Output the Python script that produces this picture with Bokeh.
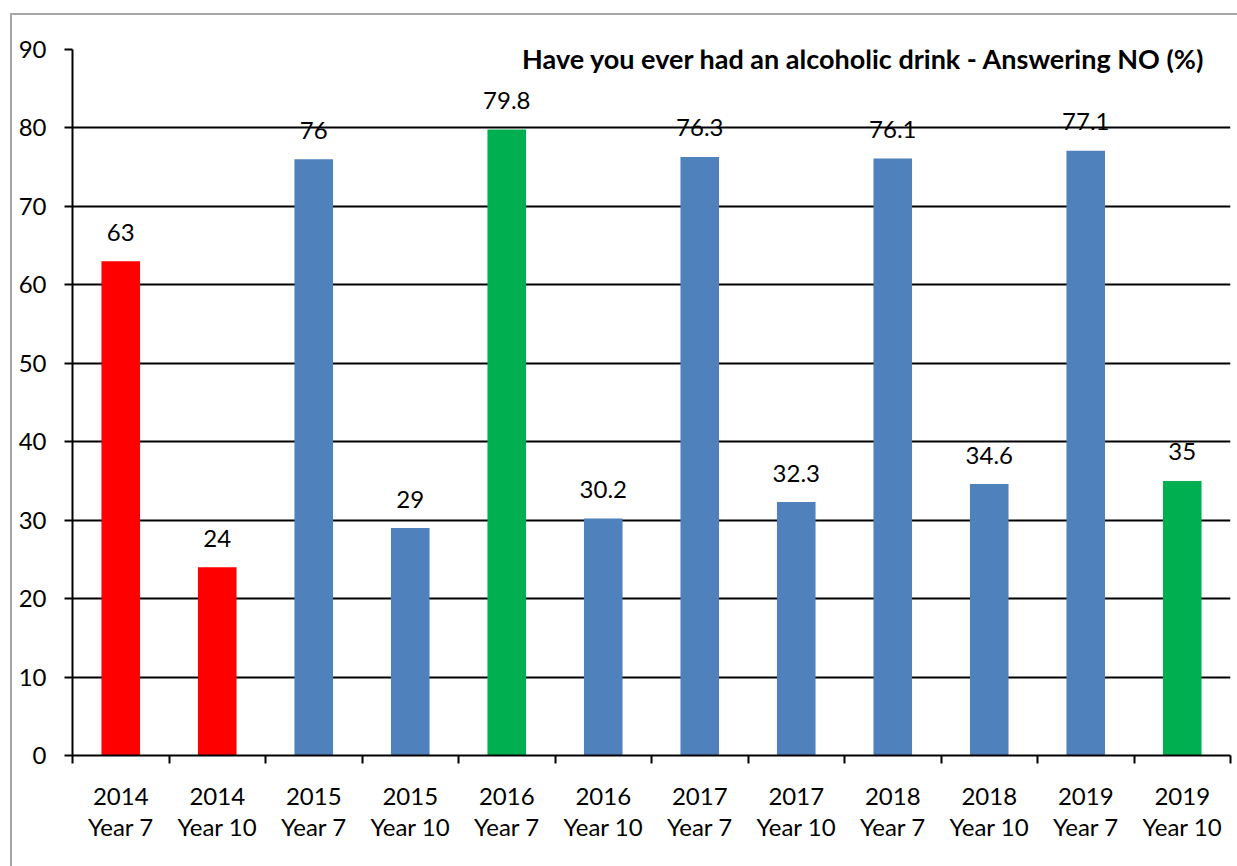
from bokeh.plotting import figure
from bokeh.models import FixedTicker, ColumnDataSource, Range1d
from bokeh.core.properties import value
from bokeh.embed import file_html
from bokeh.resources import INLINE

years = ["2014", "2014", "2015", "2015", "2016", "2016", "2017", "2017", "2018", "2018", "2019", "2019"]
groups = ["Year 7", "Year 10"] * 6
values = [63, 24, 76, 29, 79.8, 30.2, 76.3, 32.3, 76.1, 34.6, 77.1, 35]
label_texts = ["63", "24", "76", "29", "79.8", "30.2", "76.3", "32.3", "76.1", "34.6", "77.1", "35"]
RED, BLUE, GREEN = "#FF0000", "#4F81BD", "#00B050"
colors = [RED, RED, BLUE, BLUE, GREEN, BLUE, BLUE, BLUE, BLUE, BLUE, BLUE, GREEN]
y_ticks = [0, 10, 20, 30, 40, 50, 60, 70, 80, 90]
title_text = "Have you ever had an alcoholic drink - Answering NO (%)"

FONT = "Lato"
n = len(values)
xs = [i + 0.5 for i in range(n)]

src = ColumnDataSource(dict(x=xs, top=values, color=colors, label=label_texts))

p = figure(width=1227, height=853, output_backend="svg", toolbar_location=None,
           x_range=Range1d(0, n), y_range=Range1d(0, 90),
           min_border_left=60, min_border_top=34, min_border_right=9, min_border_bottom=113,
           margin=(13, 0, 0, 10))
p.styles = {"border-left": "2px solid #A6A6A6", "border-top": "2px solid #A6A6A6"}
p.outline_line_color = None
p.background_fill_color = "white"
p.border_fill_color = "white"

p.vbar(x="x", top="top", width=0.4, bottom=0, fill_color="color", line_color=None, source=src)
p.text(x="x", y="top", text="label", source=src, text_align="center", text_baseline="middle",
       y_offset=-29, text_font=value(FONT), text_font_size="24px", text_color="black")
p.text(x=[n], y=[90], text=[title_text], text_align="right", text_baseline="middle",
       x_offset=-25, y_offset=9, text_font=value(FONT), text_font_style="bold",
       text_font_size="27px", text_color="black")

# grid
p.xgrid.grid_line_color = None
p.ygrid.grid_line_color = "black"
p.ygrid.grid_line_width = 2
p.ygrid.ticker = FixedTicker(ticks=y_ticks)

# y axis
p.yaxis.ticker = FixedTicker(ticks=y_ticks)
p.yaxis.axis_line_color = "black"
p.yaxis.axis_line_width = 2
p.yaxis.major_tick_line_color = "black"
p.yaxis.major_tick_line_width = 2
p.yaxis.major_tick_out = 8
p.yaxis.major_tick_in = 0
p.yaxis.minor_tick_line_color = None
p.yaxis.major_label_standoff = 18
p.yaxis.major_label_text_font = FONT
p.yaxis.major_label_text_font_size = "24px"
p.yaxis.major_label_text_color = "black"

# x axis
p.xaxis.ticker = FixedTicker(ticks=xs, minor_ticks=list(range(n + 1)))
p.xaxis.major_label_overrides = {x: f"{y}\n{g}" for x, y, g in zip(xs, years, groups)}
p.xaxis.axis_line_color = "black"
p.xaxis.axis_line_width = 2
p.xaxis.major_tick_line_color = None
p.xaxis.minor_tick_line_color = "black"
p.xaxis.minor_tick_line_width = 2
p.xaxis.minor_tick_out = 8
p.xaxis.minor_tick_in = 0
p.xaxis.major_label_standoff = 17
p.xaxis.major_label_text_font = FONT
p.xaxis.major_label_text_font_size = "24px"
p.xaxis.major_label_text_color = "black"
p.xaxis.major_label_text_line_height = 1.1

open("out.html", "w").write(file_html(p, INLINE))
